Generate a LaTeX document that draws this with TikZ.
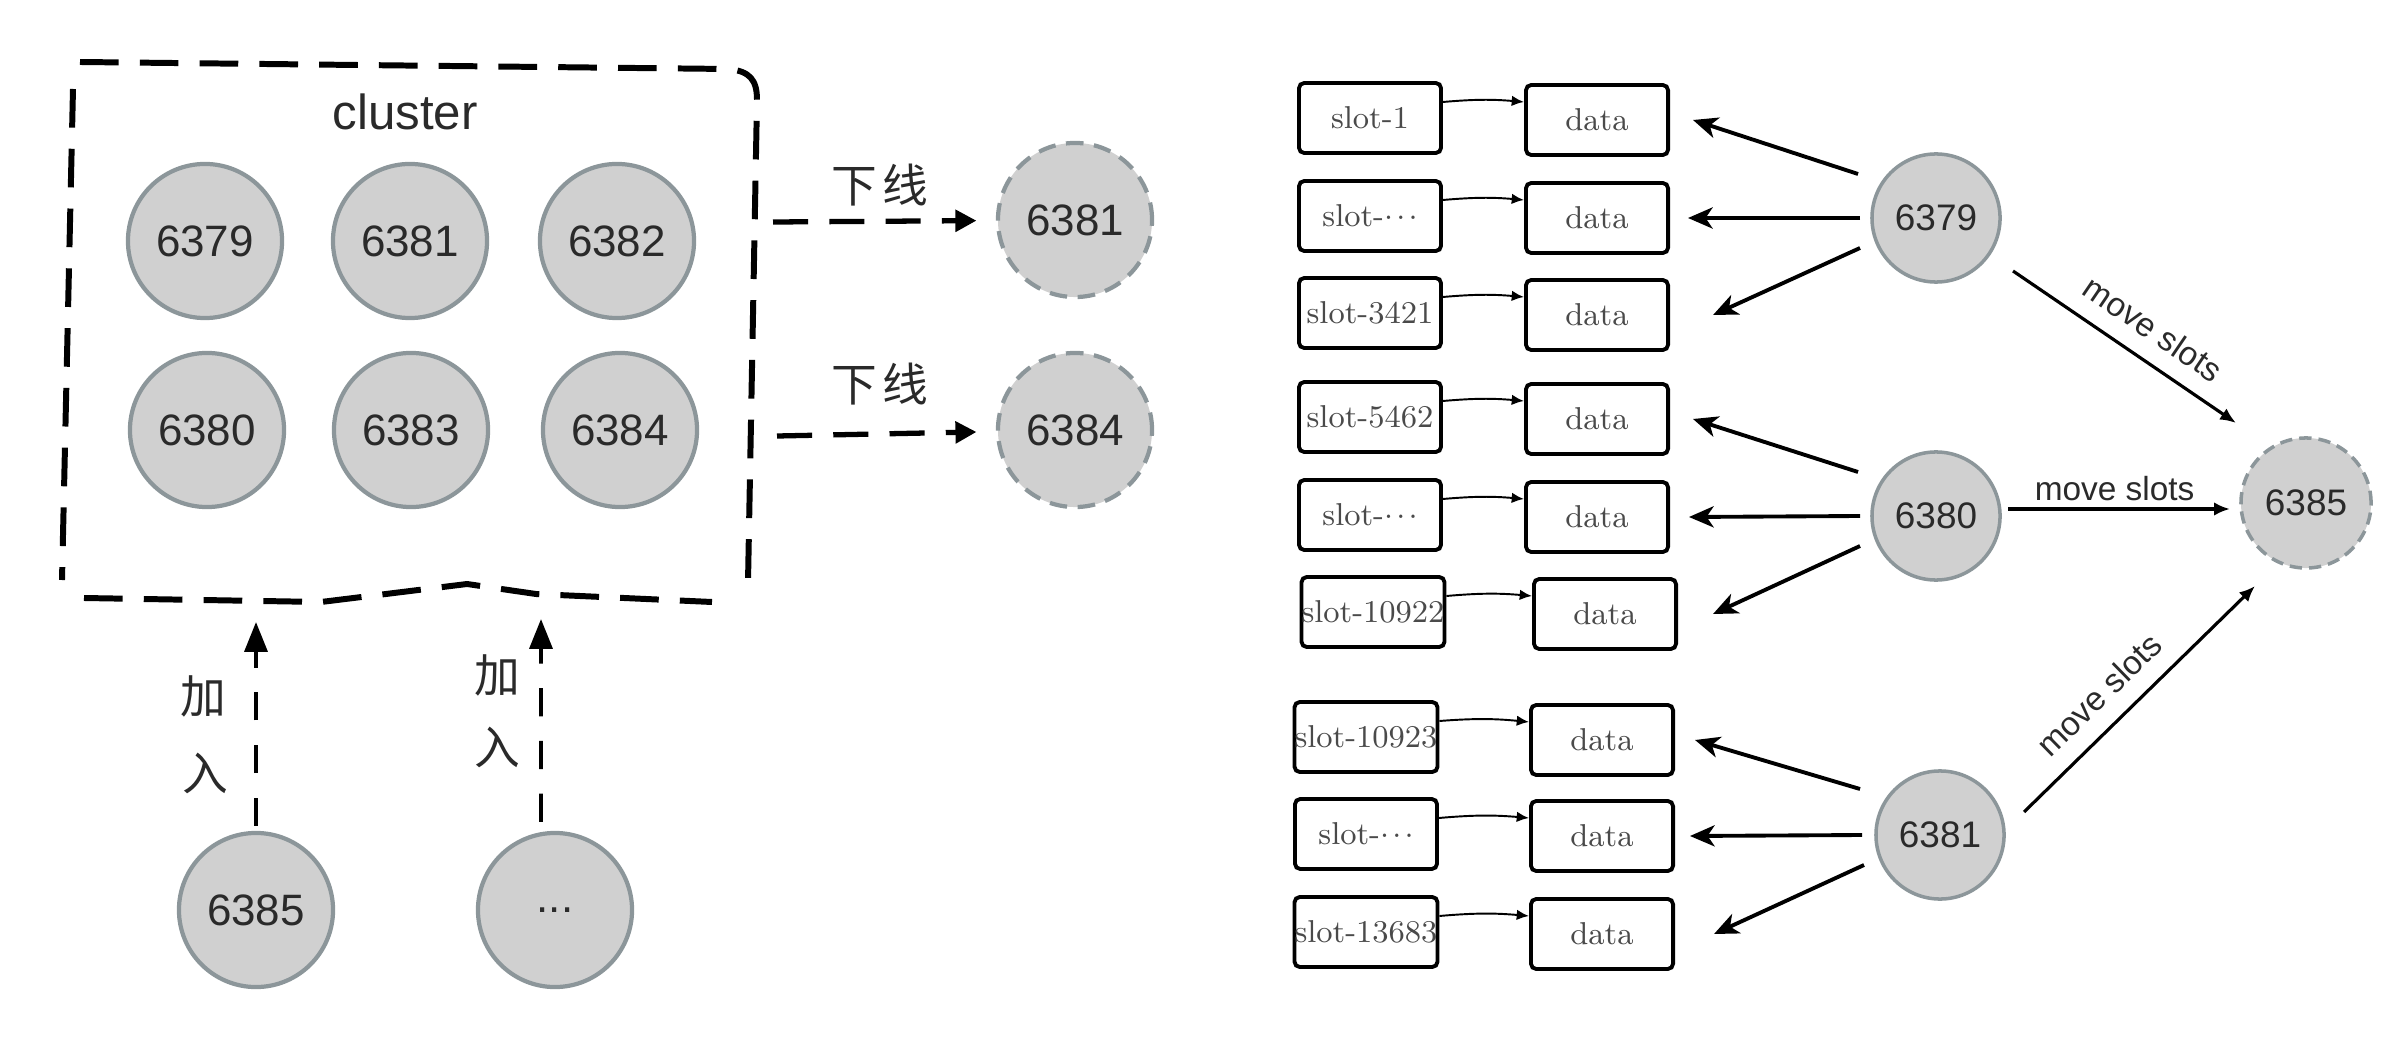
\documentclass[tikz,border=0pt]{standalone}
\usepackage{fontspec}
\newfontfamily\sansf{Liberation Sans}
\newfontfamily\cjkf{Noto Sans CJK SC}
\usetikzlibrary{arrows.meta}
\definecolor{nodefill}{HTML}{D0D0D0}
\definecolor{nodeline}{HTML}{8C969A}
\definecolor{slottext}{HTML}{4A4A4A}
\definecolor{labeltext}{HTML}{2A2A2A}
\newcommand\slotdots{\raisebox{0.5ex}{.\kern0.9pt.\kern0.9pt.}}
\begin{document}
\begin{tikzpicture}[x=0.01cm,y=-0.01cm,
  bignode/.style={circle, fill=nodefill, draw=nodeline, line width=1.2pt, minimum size=1.54cm, inner sep=0pt, text=labeltext, font=\sansf\fontsize{12.5}{14}\selectfont},
  ghostbig/.style={bignode, dash pattern=on 5pt off 3pt},
  smallnode/.style={circle, fill=nodefill, draw=nodeline, line width=1pt, minimum size=1.28cm, inner sep=0pt, text=labeltext, font=\sansf\fontsize{10.5}{12}\selectfont},
  ghostsmall/.style={smallnode, dash pattern=on 3.5pt off 2pt},
  slotbox/.style={draw, line width=1.1pt, rounded corners=1.5pt, minimum width=1.42cm, minimum height=0.70cm, inner sep=0pt, text=slottext, font=\fontsize{9}{10}\selectfont},
  clusterline/.style={line width=1.7pt, dash pattern=on 11pt off 6pt, line join=round},
  offarrow/.style={line width=1.5pt, dash pattern=on 10pt off 6pt, -{Triangle[length=6pt,width=6pt]}},
  joinarrow/.style={line width=1.1pt, dash pattern=on 8pt off 7pt, -{Triangle[length=8.5pt,width=6.5pt]}},
  cjklabel/.style={inner sep=0pt, text=labeltext, font=\cjkf\fontsize{13}{15}\selectfont},
  linkarrow/.style={line width=0.55pt, -{Latex[length=3.5pt,width=3pt]}},
  nodearrow/.style={line width=1.1pt, -{Stealth[length=7pt,width=6pt,inset=2pt]}},
  movearrow/.style={line width=0.9pt, -{Latex[length=4.5pt,width=3.8pt]}},
  movelabel/.style={inner sep=2pt, text=labeltext, font=\sansf\fontsize{9.5}{11}\selectfont}
]
\useasboundingbox (0,0) rectangle (2388,1064);

% ---------------- left: cluster ----------------
\draw[clusterline] (80,62) -- (728,69) .. controls (750,71) and (757,80) .. (757,100) -- (748,582);
\draw[clusterline] (73,89) -- (62,580);
\draw[clusterline] (84,598) -- (321,602) -- (467,584) -- (536,594) -- (712,602);
\node[inner sep=0pt, text=labeltext, font=\sansf\fontsize{14}{16}\selectfont] (clabel) at (405,112) {cluster};

\node[bignode] (a6379) at (205,241) {6379};
\node[bignode] (a6381) at (410,241) {6381};
\node[bignode] (a6382) at (617,241) {6382};
\node[bignode] (a6380) at (207,430) {6380};
\node[bignode] (a6383) at (411,430) {6383};
\node[bignode] (a6384) at (620,430) {6384};

% offline nodes
\node[ghostbig] (o6381) at (1075,220) {6381};
\node[ghostbig] (o6384) at (1075,430) {6384};
\coordinate (off1) at (773,222);
\coordinate (off2) at (777,436);
\draw[offarrow, shorten >=5.5pt] (off1) -- (o6381);
\draw[offarrow, shorten >=5.5pt] (off2) -- (o6384);
\node[cjklabel] (xl1) at (880,185) {下\hspace{0.12em}线};
\node[cjklabel] (xl2) at (880,384) {下\hspace{0.12em}线};

% joining nodes
\node[bignode] (b6385) at (256,910) {6385};
\node[bignode] (bdots) at (555,910) {...};
\coordinate (j1) at (256,622);
\coordinate (j2) at (541,619);
\draw[joinarrow] ([yshift=0.05cm]b6385.north) -- (j1);
\draw[joinarrow] ([xshift=-0.14cm,yshift=0.09cm]bdots.north) -- (j2);
\node[cjklabel] (jl1a) at (203,696) {加};
\node[cjklabel] (jl1b) at (205,773) {入};
\node[cjklabel] (jl2a) at (497,675) {加};
\node[cjklabel] (jl2b) at (497,747) {入};

% ---------------- right: slots ----------------
\node[slotbox] (s1) at (1370,118) {slot-1};
\node[slotbox] (d1) at (1597,120) {data};
\node[slotbox] (s2) at (1370,216) {slot-\slotdots};
\node[slotbox] (d2) at (1597,218) {data};
\node[slotbox] (s3) at (1370,313) {slot-3421};
\node[slotbox] (d3) at (1597,315) {data};
\node[slotbox] (s4) at (1370,417) {slot-5462};
\node[slotbox] (d4) at (1597,419) {data};
\node[slotbox] (s5) at (1370,515) {slot-\slotdots};
\node[slotbox] (d5) at (1597,517) {data};
\node[slotbox] (s6) at (1373,612) {slot-10922};
\node[slotbox] (d6) at (1605,614) {data};
\node[slotbox] (s7) at (1366,737) {slot-10923};
\node[slotbox] (d7) at (1602,740) {data};
\node[slotbox] (s8) at (1366,834) {slot-\slotdots};
\node[slotbox] (d8) at (1602,836) {data};
\node[slotbox] (s9) at (1366,932) {slot-13683};
\node[slotbox] (d9) at (1602,934) {data};

\foreach \i in {1,...,9}{
  \draw[linkarrow] ([yshift=0.16cm]s\i.east) to[bend left=5] ([yshift=0.18cm]d\i.west);
}

% master nodes
\node[smallnode] (r6379) at (1936,218) {6379};
\node[smallnode] (r6380) at (1936,516) {6380};
\node[smallnode] (r6381) at (1940,835) {6381};
\node[ghostsmall, minimum size=1.30cm] (r6385) at (2306,503) {6385};

% arrows master -> data
\draw[nodearrow] ([shift={(-78,-44)}]r6379.center) -- ([xshift=0.23cm]d1.east);
\draw[nodearrow] ([shift={(-76,0)}]r6379.center) -- ([xshift=0.18cm]d2.east);
\draw[nodearrow] ([shift={(-76,30)}]r6379.center) -- ([xshift=0.43cm]d3.east);
\draw[nodearrow] ([shift={(-78,-44)}]r6380.center) -- ([xshift=0.23cm]d4.east);
\draw[nodearrow] ([shift={(-76,0)}]r6380.center) -- ([xshift=0.19cm]d5.east);
\draw[nodearrow] ([shift={(-76,30)}]r6380.center) -- ([xshift=0.35cm]d6.east);
\draw[nodearrow] ([shift={(-80,-46)}]r6381.center) -- ([xshift=0.20cm]d7.east);
\draw[nodearrow] ([shift={(-78,0)}]r6381.center) -- ([xshift=0.15cm]d8.east);
\draw[nodearrow] ([shift={(-76,30)}]r6381.center) -- ([xshift=0.39cm]d9.east);

% move slots
\coordinate (m1s) at ([shift={(77,53)}]r6379.center);
\coordinate (m1e) at ([shift={(-70,-80)}]r6385.center);
\coordinate (m2s) at ([shift={(72,-7)}]r6380.center);
\coordinate (m2e) at ([shift={(-76,6)}]r6385.center);
\coordinate (m3s) at ([shift={(84,-23)}]r6381.center);
\coordinate (m3e) at ([shift={(-51,83)}]r6385.center);
\draw[movearrow] (m1s) -- (m1e) node[movelabel, sloped, above=3pt, pos=0.55] {move slots};
\draw[movearrow] (m2s) -- (m2e) node[movelabel, above, pos=0.48] {move slots};
\draw[movearrow] (m3s) -- (m3e) node[movelabel, sloped, above=3pt, pos=0.42] {move slots};
\end{tikzpicture}
\end{document}
